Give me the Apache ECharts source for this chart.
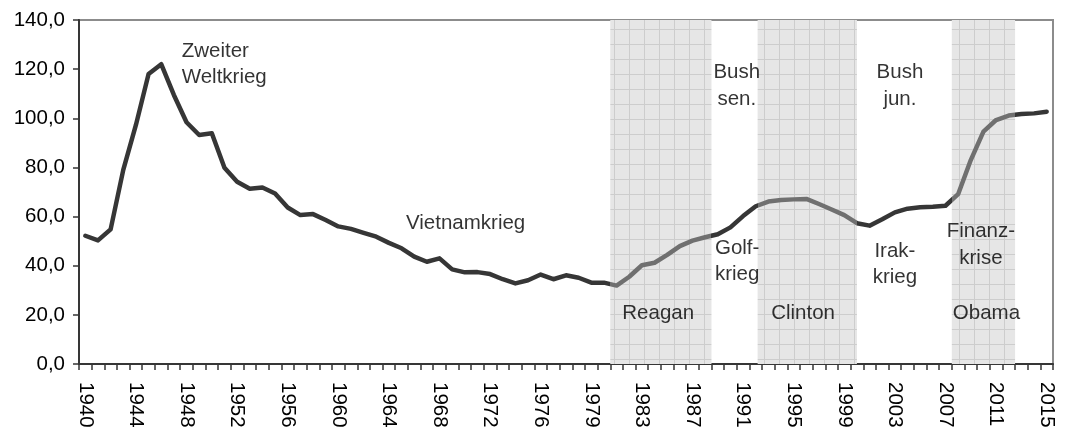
<!DOCTYPE html>
<html>
<head>
<meta charset="utf-8">
<script src="https://cdn.jsdelivr.net/npm/echarts@6/dist/echarts.min.js"></script>
<style>
html,body{margin:0;padding:0;background:#fff;}
#chart{width:1065px;height:428px;}
</style>
</head>
<body>
<div id="chart"></div>
<script>
// Categories (fiscal years, incl. transition quarter)
const years = ['1940','1941','1942','1943','1944','1945','1946','1947','1948','1949',
  '1950','1951','1952','1953','1954','1955','1956','1957','1958','1959',
  '1960','1961','1962','1963','1964','1965','1966','1967','1968','1969',
  '1970','1971','1972','1973','1974','1975','1976','TQ','1977','1978','1979',
  '1980','1981','1982','1983','1984','1985','1986','1987','1988','1989',
  '1990','1991','1992','1993','1994','1995','1996','1997','1998','1999',
  '2000','2001','2002','2003','2004','2005','2006','2007','2008','2009',
  '2010','2011','2012','2013','2014','2015'];

// Debt ratio values (% of GDP)
const debtRatio = [52.2,50.3,54.8,79.0,97.3,118.0,122.0,109.5,98.4,93.2,
  93.9,79.9,74.2,71.3,71.8,69.4,63.7,60.6,61.0,58.6,
  56.0,55.0,53.4,51.8,49.3,47.1,43.7,41.6,43.0,38.5,
  37.3,37.4,36.6,34.5,32.8,34.1,36.4,34.5,36.1,35.1,33.1,
  33.1,31.9,35.5,40.2,41.2,44.4,48.0,50.2,51.6,52.8,
  55.6,60.2,64.2,66.1,66.7,67.0,67.2,65.1,62.9,60.6,
  57.3,56.3,58.9,61.7,63.2,63.8,64.0,64.4,69.1,83.0,
  94.6,99.3,101.1,101.7,102.0,102.7];

// Y-axis ticks
const yTicks = [0,20,40,60,80,100,120,140];

// Shaded periods, in category-band units (start, end)
const shadedSpans = [[42,50],[53.65,61.5],[69,74]];

// Annotation texts with anchors in data units (band index, value)
const annotations = [
  {text:'Zweiter\nWeltkrieg', x:8.12, y:132.8, align:'left'},
  {text:'Vietnamkrieg', x:25.85, y:62.55, align:'left'},
  {text:'Reagan', x:45.79, y:25.9, align:'center'},
  {text:'Golf-\nkrieg', x:52.03, y:52.6, align:'center'},
  {text:'Bush\nsen.', x:52.0, y:124.0, align:'center'},
  {text:'Clinton', x:57.24, y:25.9, align:'center'},
  {text:'Bush\njun.', x:64.9, y:124.0, align:'center'},
  {text:'Irak-\nkrieg', x:64.5, y:51.4, align:'center'},
  {text:'Finanz-\nkrise', x:71.3, y:59.3, align:'center'},
  {text:'Obama', x:71.74, y:25.9, align:'center'}
];

const FONT = 'Liberation Sans, Arial, sans-serif';
const DARK = '#363636';
const LIGHT = '#707070';

// grid pattern for shaded areas
const pc = document.createElement('canvas');
pc.width = 15; pc.height = 15;
const g = pc.getContext('2d');
g.fillStyle = '#e6e6e6';
g.fillRect(0,0,15,15);
g.fillStyle = '#cdcdcd';
g.fillRect(14,0,1,15);
g.fillRect(0,14,15,1);

const lineData = debtRatio.map((v,i)=>[i+0.5, v]);
const pieces = shadedSpans.map(s=>({gte:s[0], lt:s[1], color:LIGHT}));

const chart = echarts.init(document.getElementById('chart'), null, {renderer:'canvas'});
chart.setOption({
  animation:false,
  backgroundColor:'#ffffff',
  textStyle:{fontFamily:FONT},
  grid:{left:79,right:12,top:20,bottom:64,show:true,borderColor:'#8c8c8c',borderWidth:2,
        backgroundColor:'transparent', outerBoundsMode:'none', containLabel:false},
  xAxis:[{
    type:'category', data:years, boundaryGap:true,
    axisLine:{show:true,lineStyle:{color:DARK,width:2}},
    axisTick:{show:true,interval:0,length:6,inside:false,lineStyle:{color:DARK,width:1.5}},
    axisLabel:{interval:3,rotate:-90,margin:18,color:'#000',fontSize:20.5,fontFamily:FONT},
    splitLine:{show:false}
  },{
    type:'value', min:0, max:years.length, show:false, splitLine:{show:false}
  }],
  yAxis:{
    type:'value', min:yTicks[0], max:yTicks[yTicks.length-1], interval:20,
    axisLine:{show:true,lineStyle:{color:DARK,width:2}},
    axisTick:{show:true,length:6,inside:false,lineStyle:{color:DARK,width:1.5}},
    axisLabel:{margin:14,color:'#000',fontSize:20.5,fontFamily:FONT,
      formatter:v=>v.toFixed(1).replace('.',',')},
    splitLine:{show:false}
  },
  visualMap:{type:'piecewise',show:false,dimension:0,seriesIndex:1,pieces:pieces,
    outOfRange:{color:DARK}},
  series:[{
    type:'custom', xAxisIndex:1, yAxisIndex:0, z:1, silent:true,
    data:shadedSpans,
    encode:{x:[0,1]},
    renderItem:function(params, api){
      const p0 = api.coord([api.value(0), yTicks[yTicks.length-1]]);
      const p1 = api.coord([api.value(1), yTicks[0]]);
      return {type:'rect', shape:{x:p0[0], y:p0[1], width:p1[0]-p0[0], height:p1[1]-p0[1]},
        style:{fill:{image:pc, repeat:'repeat'}}};
    }
  },{
    type:'line', xAxisIndex:1, yAxisIndex:0, z:3, data:lineData,
    showSymbol:false, symbol:'none', smooth:false,
    lineStyle:{width:4.5, cap:'round', join:'round'}
  },{
    type:'scatter', xAxisIndex:1, yAxisIndex:0, z:4, symbolSize:0, silent:true,
    data:annotations.map(a=>({value:[a.x,a.y], name:a.text,
      label:{align:a.align}})),
    label:{show:true, position:[0,0], verticalAlign:'top', formatter:p=>p.name,
      color:'#000', fontSize:20.5, lineHeight:26.5, fontFamily:FONT}
  }]
});
</script>
</body>
</html>
